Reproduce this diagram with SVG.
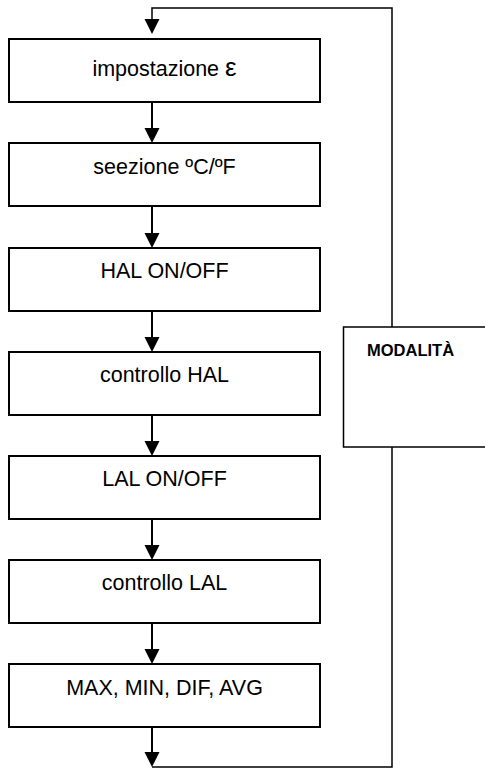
<svg xmlns="http://www.w3.org/2000/svg" width="485" height="768" viewBox="0 0 485 768">
<style>
.box{fill:#fff;stroke:#000;stroke-width:2}
.lbl{font-family:"Liberation Sans",Arial,sans-serif;font-size:21.5px;text-anchor:middle;fill:#000}
.ln{fill:none;stroke:#000;stroke-width:2}
.thin{fill:none;stroke:#000;stroke-width:1.5}
.ah{fill:#000}
</style>
<rect width="485" height="768" fill="#fff"/>
<g id="connectors">
<polyline class="thin" points="392,327 392,8 152,8 152,20"/>
<polygon class="ah" points="144.5,19 159.5,19 152,34"/>
<line class="ln" x1="152" y1="102" x2="152" y2="130"/>
<polygon class="ah" points="144.5,128 159.5,128 152,143"/>
<line class="ln" x1="152" y1="206" x2="152" y2="235"/>
<polygon class="ah" points="144.5,233 159.5,233 152,248"/>
<line class="ln" x1="152" y1="311" x2="152" y2="339"/>
<polygon class="ah" points="144.5,337 159.5,337 152,352"/>
<line class="ln" x1="152" y1="415" x2="152" y2="443"/>
<polygon class="ah" points="144.5,441 159.5,441 152,456"/>
<line class="ln" x1="152" y1="519" x2="152" y2="547"/>
<polygon class="ah" points="144.5,545 159.5,545 152,560"/>
<line class="ln" x1="152" y1="623" x2="152" y2="651"/>
<polygon class="ah" points="144.5,649 159.5,649 152,664"/>
<line class="ln" x1="152" y1="727" x2="152" y2="754"/>
<polygon class="ah" points="144.5,752 159.5,752 152,767"/>
<polyline class="thin" points="392,447 392,767 152,767"/>
</g>
<g id="n1"><rect class="box" x="9" y="39" width="311" height="63"/><text class="lbl" x="164.5" y="76">impostazione <tspan font-size="26">ε</tspan></text></g>
<g id="n2"><rect class="box" x="9" y="143" width="311" height="63"/><text class="lbl" x="164.5" y="174">seezione ºC/ºF</text></g>
<g id="n3"><rect class="box" x="9" y="248" width="311" height="63"/><text class="lbl" x="164.5" y="278">HAL ON/OFF</text></g>
<g id="n4"><rect class="box" x="9" y="352" width="311" height="63"/><text class="lbl" x="164.5" y="382">controllo HAL</text></g>
<g id="n5"><rect class="box" x="9" y="456" width="311" height="63"/><text class="lbl" x="164.5" y="486">LAL ON/OFF</text></g>
<g id="n6"><rect class="box" x="9" y="560" width="311" height="63"/><text class="lbl" x="164.5" y="590">controllo LAL</text></g>
<g id="n7"><rect class="box" x="9" y="664" width="311" height="63"/><text class="lbl" x="164.5" y="695">MAX, MIN, DIF, AVG</text></g>
<g id="modalita"><rect x="343.5" y="327" width="150" height="120" fill="#fff" stroke="#000" stroke-width="1.5"/><text x="367" y="356" font-family="'Liberation Sans',Arial,sans-serif" font-size="16.5" font-weight="bold" fill="#000">MODALITÀ</text></g>
</svg>
